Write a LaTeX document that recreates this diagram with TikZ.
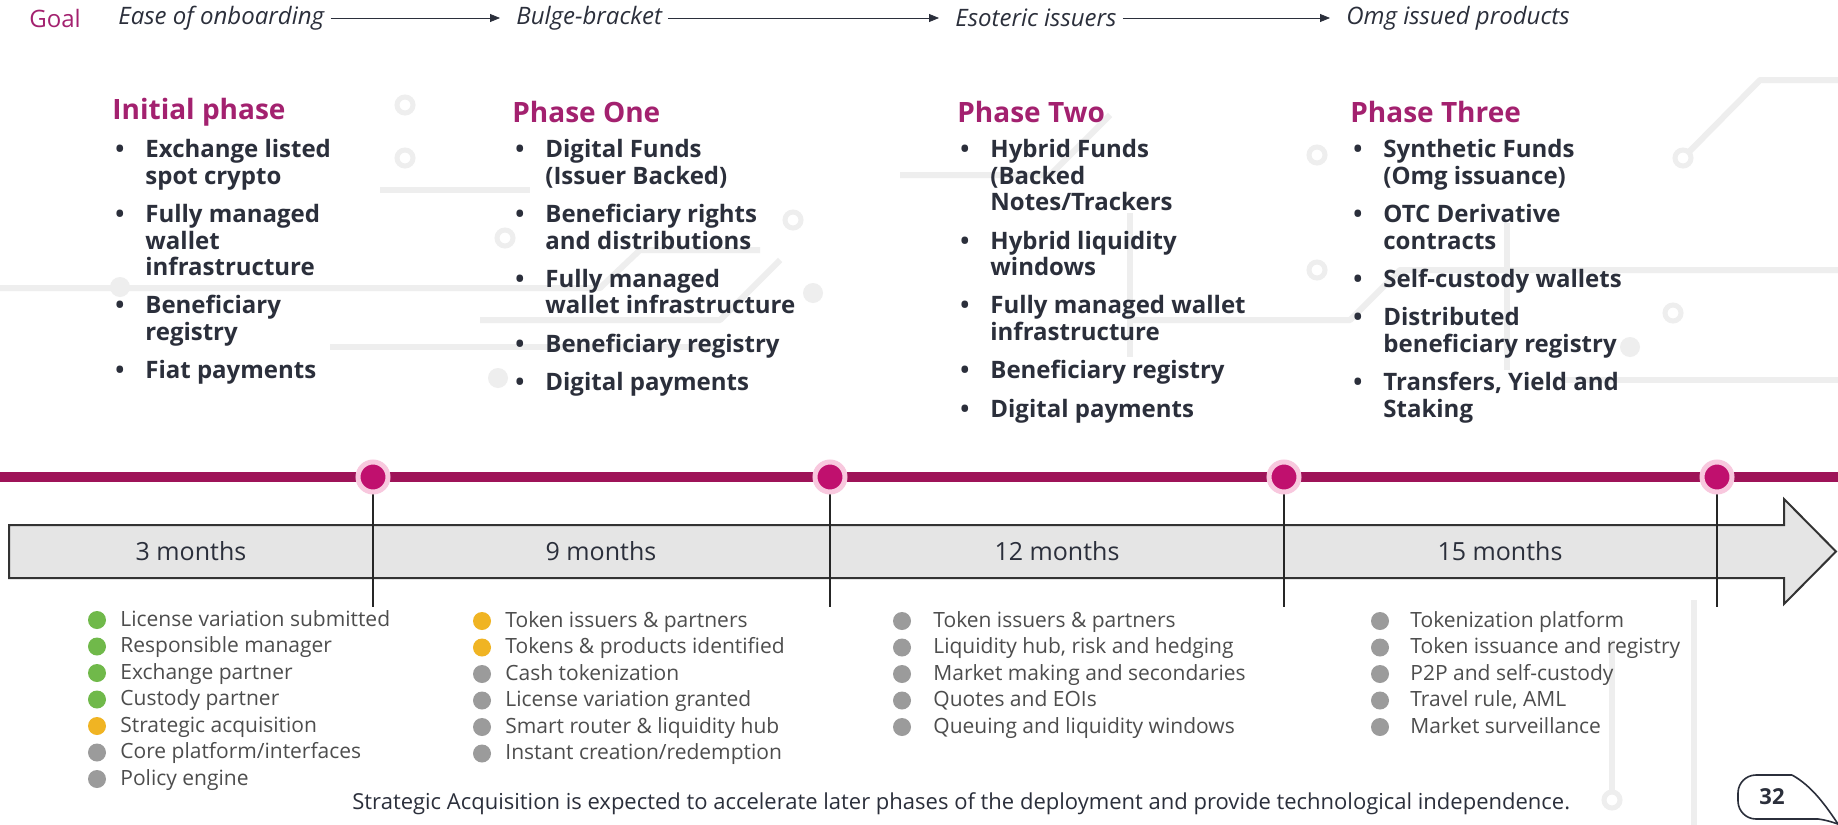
\documentclass[tikz,border=0pt]{standalone}
\usepackage{fontspec}
\setmainfont{Open Sans}
\usetikzlibrary{arrows.meta}

\definecolor{omgbar}{RGB}{158, 19, 88}
\definecolor{omgdot}{RGB}{192, 16, 110}
\definecolor{omghalo}{RGB}{248, 200, 222}
\definecolor{omgtitle}{RGB}{163, 33, 111}
\definecolor{omgtext}{RGB}{43, 47, 59}
\definecolor{omgsub}{RGB}{77, 77, 77}
\definecolor{omggrey}{RGB}{155, 155, 155}
\definecolor{omggreen}{RGB}{112, 185, 74}
\definecolor{omgamber}{RGB}{240, 180, 35}
\definecolor{arrowfill}{RGB}{229, 229, 229}
\definecolor{tracegrey}{RGB}{238, 238, 238}

\tikzset{
  goal/.style={anchor=west, inner sep=3pt, text=omgtext,
    font=\fontsize{12}{14}\selectfont\itshape},
  goalarrow/.style={-{Triangle[length=5pt,width=4pt]}, thin, draw=omgtext,
    shorten >=5pt},
  phasetitle/.style={anchor=west, inner sep=0pt, text=omgtitle,
    font=\fontsize{14}{16}\selectfont\bfseries},
  phaselist/.style={anchor=north west, inner sep=0pt, text=omgtext,
    font=\fontsize{12}{13.2}\selectfont\bfseries},
  months/.style={text=omgtext, font=\fontsize{12.5}{14}\selectfont},
  milestone/.style={circle, fill=omgdot, draw=omghalo, line width=2.5pt,
    minimum size=15pt, inner sep=0pt},
  divider/.style={draw=black!85, line width=0.8pt},
  task/.style={anchor=base west, inner sep=0pt, text=omgsub,
    font=\fontsize{10.5}{13}\selectfont},
  trace/.style={draw=tracegrey, line width=3pt, line join=round},
  pad/.style={draw=tracegrey, line width=2.5pt, fill=white},
}

\newcommand{\itemgap}{6pt}

\begin{document}
\begin{tikzpicture}[x=0.5pt, y=-0.5pt]
  \useasboundingbox[fill=white] (0,0) rectangle (1838,825);

  % Faint circuit traces in the background
  \draw[trace] (380,190) -- (530,190);
  \draw[trace] (0,288) -- (600,288) -- (640,250) -- (760,250);
  \draw[trace] (330,347) -- (720,347);
  \draw[trace] (480,320) -- (720,320) -- (780,260);
  \draw[trace] (900,175) -- (1050,175) -- (1110,115);
  \draw[trace] (1130,213) -- (1130,357);
  \draw[trace] (1130,320) -- (1350,320) -- (1400,270) -- (1838,270);
  \draw[trace] (1507,223) -- (1507,370);
  \draw[trace] (1683,158) -- (1760,80) -- (1838,80);
  \draw[trace] (1560,380) -- (1838,380);
  \draw[trace] (1612,640) -- (1612,790);
  \draw[trace] (1694,600) -- (1694,825);
  \draw[pad] (405,105) circle (4pt);
  \draw[pad] (405,158) circle (4pt);
  \draw[pad] (505,238) circle (4pt);
  \draw[pad] (793,220) circle (4pt);
  \draw[pad] (1317,155) circle (4pt);
  \draw[pad] (1317,270) circle (4pt);
  \draw[pad] (1683,158) circle (4pt);
  \draw[pad] (1673,313) circle (4pt);
  \draw[pad] (1612,800) circle (4pt);
  \fill[tracegrey] (120,287) circle (5pt);
  \fill[tracegrey] (498,378) circle (5pt);
  \fill[tracegrey] (813,293) circle (5pt);
  \fill[tracegrey] (1630,347) circle (5pt);

  % Goal row
  \node[anchor=west, inner sep=0pt, text=omgtitle,
        font=\fontsize{12}{14}\selectfont] (goal) at (29,18) {Goal};
  \node[goal] (ease) at (112,18) {Ease of onboarding};
  \node[goal] (bulge) at (510,18) {Bulge-bracket};
  \node[goal] (esoteric) at (949,18) {Esoteric issuers};
  \node[goal] (omgprod) at (1340,18) {Omg issued products};
  \draw[goalarrow] (ease) -- (bulge);
  \draw[goalarrow] (bulge) -- (esoteric);
  \draw[goalarrow] (esoteric) -- (omgprod);

  % Phase headings
  \node[phasetitle] (init)  at (112,112)  {Initial phase};
  \node[phasetitle] (one)   at (512,112)  {Phase One};
  \node[phasetitle] (two)   at (957,112)  {Phase Two};
  \node[phasetitle] (three) at (1350,112) {Phase Three};

  % Deliverables of each phase
  \node[phaselist] (initlist) at (115,139) {%
    \begin{tabular}{@{}p{15pt}@{}l@{}}
      \textbullet & Exchange listed\\
                  & spot crypto\\[\itemgap]
      \textbullet & Fully managed\\
                  & wallet\\
                  & infrastructure\\[\itemgap]
      \textbullet & Beneficiary\\
                  & registry\\[\itemgap]
      \textbullet & Fiat payments
    \end{tabular}};
  \node[phaselist] (onelist) at (515,139) {%
    \begin{tabular}{@{}p{15pt}@{}l@{}}
      \textbullet & Digital Funds\\
                  & (Issuer Backed)\\[\itemgap]
      \textbullet & Beneficiary rights\\
                  & and distributions\\[\itemgap]
      \textbullet & Fully managed\\
                  & wallet infrastructure\\[\itemgap]
      \textbullet & Beneficiary registry\\[\itemgap]
      \textbullet & Digital payments
    \end{tabular}};
  \node[phaselist] (twolist) at (960,139) {%
    \begin{tabular}{@{}p{15pt}@{}l@{}}
      \textbullet & Hybrid Funds\\
                  & (Backed\\
                  & Notes/Trackers\\[\itemgap]
      \textbullet & Hybrid liquidity\\
                  & windows\\[\itemgap]
      \textbullet & Fully managed wallet\\
                  & infrastructure\\[\itemgap]
      \textbullet & Beneficiary registry\\[\itemgap]
      \textbullet & Digital payments
    \end{tabular}};
  \node[phaselist] (threelist) at (1353,139) {%
    \begin{tabular}{@{}p{15pt}@{}l@{}}
      \textbullet & Synthetic Funds\\
                  & (Omg issuance)\\[\itemgap]
      \textbullet & OTC Derivative\\
                  & contracts\\[\itemgap]
      \textbullet & Self-custody wallets\\[\itemgap]
      \textbullet & Distributed\\
                  & beneficiary registry\\[\itemgap]
      \textbullet & Transfers, Yield and\\
                  & Staking
    \end{tabular}};

  % Milestones on the timeline
  \coordinate (m1) at (373,477);
  \coordinate (m2) at (830,477);
  \coordinate (m3) at (1284,477);
  \coordinate (m4) at (1717,477);
  \coordinate (d1) at (373,607);
  \coordinate (d2) at (830,607);
  \coordinate (d3) at (1284,607);
  \coordinate (d4) at (1717,607);

  % Big grey arrow
  \draw[fill=arrowfill, draw=black!80, line width=1pt, line join=miter]
    (9,525) -- (1784,525) -- (1784,499) -- (1836,551.5)
    -- (1784,604) -- (1784,578) -- (9,578) -- cycle;

  \draw[divider] (m1) -- (d1);
  \draw[divider] (m2) -- (d2);
  \draw[divider] (m3) -- (d3);
  \draw[divider] (m4) -- (d4);

  % Timeline bar
  \draw[omgbar, line width=5pt] (0,477) -- (1838,477);
  \node[milestone] (dot1) at (m1) {};
  \node[milestone] (dot2) at (m2) {};
  \node[milestone] (dot3) at (m3) {};
  \node[milestone] (dot4) at (m4) {};

  % Durations
  \node[months] (dur1) at (191,551)  {3 months};
  \node[months] (dur2) at (601,551)  {9 months};
  \node[months] (dur3) at (1057,551) {12 months};
  \node[months] (dur4) at (1500,551) {15 months};

  % Work items under each phase
  \foreach \c/\t [count=\k from 0] in {
      omggreen/{License variation submitted},
      omggreen/{Responsible manager},
      omggreen/{Exchange partner},
      omggreen/{Custody partner},
      omgamber/{Strategic acquisition},
      omggrey/{Core platform/interfaces},
      omggrey/{Policy engine}} {
    \fill[\c] (97,{620+26.5*\k}) circle (4.5pt);
    \node[task] (ta\k) at (120,{626+26.5*\k}) {\t};
  }
  \foreach \c/\t [count=\k from 0] in {
      omgamber/{Token issuers \& partners},
      omgamber/{Tokens \& products identified},
      omggrey/{Cash tokenization},
      omggrey/{License variation granted},
      omggrey/{Smart router \& liquidity hub},
      omggrey/{Instant creation/redemption}} {
    \fill[\c] (482,{621+26.5*\k}) circle (4.5pt);
    \node[task] (tb\k) at (505,{627+26.5*\k}) {\t};
  }
  \foreach \c/\t [count=\k from 0] in {
      omggrey/{Token issuers \& partners},
      omggrey/{Liquidity hub, risk and hedging},
      omggrey/{Market making and secondaries},
      omggrey/{Quotes and EOIs},
      omggrey/{Queuing and liquidity windows}} {
    \fill[\c] (902,{621+26.5*\k}) circle (4.5pt);
    \node[task] (tc\k) at (933,{627+26.5*\k}) {\t};
  }
  \foreach \c/\t [count=\k from 0] in {
      omggrey/{Tokenization platform},
      omggrey/{Token issuance and registry},
      omggrey/{P2P and self-custody},
      omggrey/{Travel rule, AML},
      omggrey/{Market surveillance}} {
    \fill[\c] (1380,{621+26.5*\k}) circle (4.5pt);
    \node[task] (td\k) at (1410,{627+26.5*\k}) {\t};
  }

  % Footnote
  \node[task, text=omgtext, font=\fontsize{11}{13}\selectfont] (note) at (352,809)
    {Strategic Acquisition is expected to accelerate later phases of the deployment and provide technological independence.};

  % Page number bubble
  \draw[omgtext, line width=0.8pt, rounded corners=9pt]
    (1792,775) -- (1738,775) -- (1738,819) -- (1818,819);
  \draw[omgtext, line width=0.8pt]
    (1792,775) .. controls (1812,786) and (1826,806) .. (1838,824);
  \draw[omgtext, line width=0.8pt]
    (1818,819) .. controls (1826,820) and (1832,822) .. (1838,824);
  \node[text=omgtext, font=\fontsize{11}{13}\selectfont\bfseries] (page) at (1772,797) {32};
\end{tikzpicture}
\end{document}
